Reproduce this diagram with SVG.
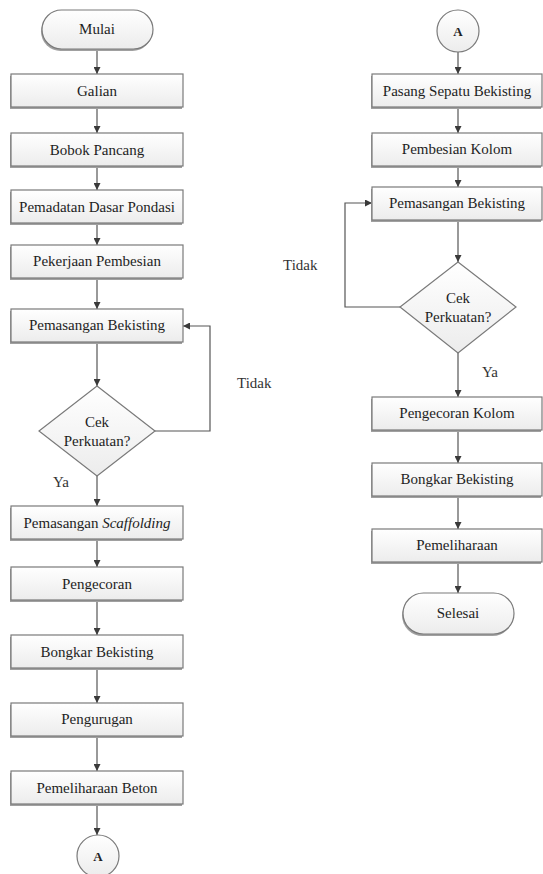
<svg xmlns="http://www.w3.org/2000/svg" width="543" height="874" viewBox="0 0 543 874" font-family="'Liberation Serif', 'Times New Roman', serif">
<defs>
<linearGradient id="g" x1="0" y1="0" x2="0" y2="1">
<stop offset="0" stop-color="#ffffff"/>
<stop offset="1" stop-color="#ececec"/>
</linearGradient>
<marker id="ah" viewBox="0 0 10 10" refX="10" refY="5" markerWidth="7" markerHeight="7" markerUnits="userSpaceOnUse" orient="auto">
<path d="M0,0 L10,5 L0,10 z" fill="#3a3a3a"/>
</marker>
</defs>
<style>
.box{fill:url(#g);stroke:#7a7a7a;stroke-width:1.2}
.sh{fill:#a0a0a0;stroke:none}
.nt{font-family:'Liberation Serif','Times New Roman',serif;font-size:15px;fill:#1e1e1e;text-anchor:middle}
.lbl{font-family:'Liberation Serif','Times New Roman',serif;font-size:15px;fill:#333}
.a{font-family:'Liberation Serif','Times New Roman',serif;font-size:13px;font-weight:bold;fill:#222;text-anchor:middle}
.c{fill:none;stroke:#555;stroke-width:1.2;marker-end:url(#ah)}
</style>
<rect width="543" height="874" fill="#ffffff"/>

<g id="connectors">
<line class="c" x1="97" y1="49" x2="97" y2="74"/>
<line class="c" x1="97" y1="107" x2="97" y2="133"/>
<line class="c" x1="97" y1="166" x2="97" y2="190"/>
<line class="c" x1="97" y1="223" x2="97" y2="245"/>
<line class="c" x1="97" y1="278" x2="97" y2="309"/>
<line class="c" x1="97" y1="342" x2="97" y2="386"/>
<line class="c" x1="97" y1="476" x2="97" y2="506"/>
<line class="c" x1="97" y1="539" x2="97" y2="567"/>
<line class="c" x1="97" y1="600" x2="97" y2="635"/>
<line class="c" x1="97" y1="668" x2="97" y2="703"/>
<line class="c" x1="97" y1="736" x2="97" y2="771"/>
<line class="c" x1="97" y1="804" x2="97" y2="835"/>
<polyline class="c" points="155,431 210,431 210,326 183,326"/>
<line class="c" x1="458" y1="52" x2="458" y2="74"/>
<line class="c" x1="458" y1="107" x2="458" y2="133"/>
<line class="c" x1="458" y1="166" x2="458" y2="187"/>
<line class="c" x1="458" y1="220" x2="458" y2="262"/>
<line class="c" x1="458" y1="353" x2="458" y2="397"/>
<line class="c" x1="458" y1="430" x2="458" y2="463"/>
<line class="c" x1="458" y1="496" x2="458" y2="529"/>
<line class="c" x1="458" y1="562" x2="458" y2="593"/>
<polyline class="c" points="400,307 345,307 345,203 372,203"/>
<text class="lbl" x="237" y="388">Tidak</text>
<text class="lbl" x="53" y="487">Ya</text>
<text class="lbl" x="283" y="270">Tidak</text>
<text class="lbl" x="482" y="377">Ya</text>
</g>

<g id="mulai">
<rect class="sh" x="41" y="12" width="111" height="39" rx="19.5"/>
<rect class="box" x="42" y="10" width="111" height="39" rx="19.5"/>
<text class="nt" x="97" y="34">Mulai</text>
</g>
<g id="galian">
<rect class="sh" x="10" y="76" width="172" height="33"/>
<rect class="box" x="11" y="74" width="172" height="33"/>
<text class="nt" x="97" y="96">Galian</text>
</g>
<g id="bobok">
<rect class="sh" x="10" y="135" width="172" height="33"/>
<rect class="box" x="11" y="133" width="172" height="33"/>
<text class="nt" x="97" y="155">Bobok Pancang</text>
</g>
<g id="pemadatan">
<rect class="sh" x="10" y="192" width="172" height="33"/>
<rect class="box" x="11" y="190" width="172" height="33"/>
<text class="nt" x="97" y="212">Pemadatan Dasar Pondasi</text>
</g>
<g id="pekerjaan">
<rect class="sh" x="10" y="247" width="172" height="33"/>
<rect class="box" x="11" y="245" width="172" height="33"/>
<text class="nt" x="97" y="266">Pekerjaan Pembesian</text>
</g>
<g id="pemasangan1">
<rect class="sh" x="10" y="311" width="172" height="33"/>
<rect class="box" x="11" y="309" width="172" height="33"/>
<text class="nt" x="97" y="330">Pemasangan Bekisting</text>
</g>
<g id="cek1">
<polygon class="box" points="97,386 155,431 97,476 39,431"/>
<text class="nt" x="97" y="427">Cek</text>
<text class="nt" x="97" y="446">Perkuatan?</text>
</g>
<g id="scaffolding">
<rect class="sh" x="10" y="508" width="172" height="33"/>
<rect class="box" x="11" y="506" width="172" height="33"/>
<text class="nt" x="97" y="528">Pemasangan <tspan font-style="italic">Scaffolding</tspan></text>
</g>
<g id="pengecoran">
<rect class="sh" x="10" y="569" width="172" height="33"/>
<rect class="box" x="11" y="567" width="172" height="33"/>
<text class="nt" x="97" y="589">Pengecoran</text>
</g>
<g id="bongkar1">
<rect class="sh" x="10" y="637" width="172" height="33"/>
<rect class="box" x="11" y="635" width="172" height="33"/>
<text class="nt" x="97" y="657">Bongkar Bekisting</text>
</g>
<g id="pengurugan">
<rect class="sh" x="10" y="705" width="172" height="33"/>
<rect class="box" x="11" y="703" width="172" height="33"/>
<text class="nt" x="97" y="724">Pengurugan</text>
</g>
<g id="pemeliharaanbeton">
<rect class="sh" x="10" y="773" width="172" height="33"/>
<rect class="box" x="11" y="771" width="172" height="33"/>
<text class="nt" x="97" y="793">Pemeliharaan Beton</text>
</g>
<g id="a1">
<circle class="box" cx="98" cy="856" r="21"/>
<text class="a" x="98" y="861">A</text>
</g>

<g id="a2">
<circle class="box" cx="458" cy="31" r="21"/>
<text class="a" x="458" y="36">A</text>
</g>
<g id="sepatu">
<rect class="sh" x="371" y="76" width="170" height="33"/>
<rect class="box" x="372" y="74" width="170" height="33"/>
<text class="nt" x="457" y="96">Pasang Sepatu Bekisting</text>
</g>
<g id="pembesiankolom">
<rect class="sh" x="371" y="135" width="170" height="33"/>
<rect class="box" x="372" y="133" width="170" height="33"/>
<text class="nt" x="457" y="154">Pembesian Kolom</text>
</g>
<g id="pemasangan2">
<rect class="sh" x="371" y="189" width="170" height="33"/>
<rect class="box" x="372" y="187" width="170" height="33"/>
<text class="nt" x="457" y="208">Pemasangan Bekisting</text>
</g>
<g id="cek2">
<polygon class="box" points="458,262 516,307 458,353 400,307"/>
<text class="nt" x="458" y="303">Cek</text>
<text class="nt" x="458" y="322">Perkuatan?</text>
</g>
<g id="pengecorankolom">
<rect class="sh" x="371" y="399" width="170" height="33"/>
<rect class="box" x="372" y="397" width="170" height="33"/>
<text class="nt" x="457" y="418">Pengecoran Kolom</text>
</g>
<g id="bongkar2">
<rect class="sh" x="371" y="465" width="170" height="33"/>
<rect class="box" x="372" y="463" width="170" height="33"/>
<text class="nt" x="457" y="484">Bongkar Bekisting</text>
</g>
<g id="pemeliharaan">
<rect class="sh" x="371" y="531" width="170" height="33"/>
<rect class="box" x="372" y="529" width="170" height="33"/>
<text class="nt" x="457" y="550">Pemeliharaan</text>
</g>
<g id="selesai">
<rect class="sh" x="402" y="595" width="111" height="41" rx="20.5"/>
<rect class="box" x="403" y="593" width="111" height="41" rx="20.5"/>
<text class="nt" x="458" y="618">Selesai</text>
</g>
</svg>
